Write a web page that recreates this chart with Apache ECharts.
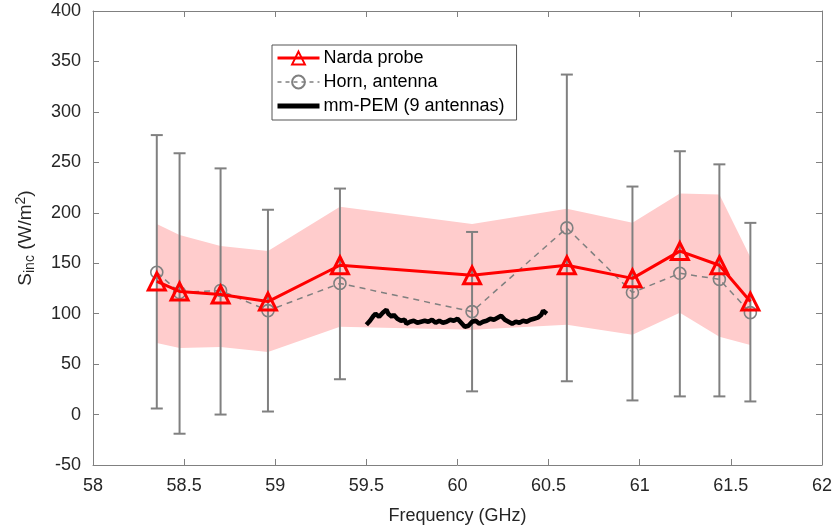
<!DOCTYPE html>
<html><head><meta charset="utf-8">
<script src="https://cdn.jsdelivr.net/npm/echarts@6/dist/echarts.min.js"></script>
<style>html,body{margin:0;padding:0;background:#fff}#c{width:835px;height:530px}</style>
</head><body><div id="c"></div>
<script>
const freq = [58.35, 58.475, 58.70, 58.96, 59.355, 60.08, 60.6, 60.96, 61.22, 61.437, 61.607];
const narda = [132, 122, 119, 112, 148, 138, 148, 135, 162, 148, 112];
const horn = [141, 121, 123, 103, 130, 102, 185, 121, 140, 134, 101];
const hornHigh = [277, 259, 244, 203, 224, 181, 337, 226, 261, 248, 190];
const hornLow = [6, -19, 0, 3, 35, 23, 33, 14, 18, 18, 13];
const bandHigh = [189, 178, 167, 162, 206, 189, 204, 190, 219, 218, 156];
const bandLow = [71, 66, 67, 62, 87, 84, 89, 79, 101, 77, 69];
const pemFreq = [59.50,59.52,59.54,59.55,59.57,59.59,59.61,59.62,59.64,59.65,59.67,59.69,59.71,59.72,59.74,59.76,59.78,59.80,59.82,59.84,59.86,59.88,59.90,59.92,59.94,59.96,59.98,60.00,60.02,60.04,60.06,60.08,60.10,60.12,60.14,60.16,60.18,60.20,60.22,60.24,60.26,60.28,60.30,60.32,60.34,60.36,60.38,60.40,60.42,60.44,60.46,60.47,60.48,60.49];
const pemVal = [89,93,98,100,97,101,104,100,97,99,95,93,94,90,92,93,91,92,93,92,94,91,93,91,92,94,93,95,91,87,88,92,93,90,92,93,95,94,96,98,94,92,90,92,91,93,92,94,95,96,99,103,102,100];
const xTicks = {min: 58, max: 62, interval: 0.5};
const yTicks = {min: -50, max: 400, interval: 50};
const names = ['Narda probe', 'Horn, antenna', 'mm-PEM (9 antennas)'];

const chart = echarts.init(document.getElementById('c'));
const FONT = '"Liberation Sans", Arial, sans-serif';
const AX = '#808080', TXT = '#262626';
function axisBase(pos, show) {
  return {
    position: pos, type: 'value',
    axisLine: {show: true, onZero: false, lineStyle: {color: AX, width: 1}},
    axisTick: {show: true, inside: true, length: 6, lineStyle: {color: AX}},
    axisLabel: {show: show, color: TXT, fontFamily: FONT, fontSize: 18},
    splitLine: {show: false}
  };
}
chart.setOption({
  animation: false,
  backgroundColor: '#fff',
  grid: {left: 93, right: 10, top: 11, bottom: 65},
  legend: {
    data: [
      {name: names[0], lineStyle: {width: 3, color: '#ff0000'}},
      {name: names[1], lineStyle: {width: 1.5, color: '#808080', type: [4, 4]}},
      {name: names[2], lineStyle: {width: 5, color: '#000'}}
    ],
    left: 272, top: 45, orient: 'vertical',
    backgroundColor: '#fff', borderColor: '#555', borderWidth: 1,
    padding: [4, 12, 5, 3], itemGap: 6, itemWidth: 42, itemHeight: 16,
    textStyle: {fontFamily: FONT, fontSize: 18, color: '#000', padding: [0, 0, 0, -1]}
  },
  xAxis: [
    Object.assign(axisBase('bottom', true), xTicks, {
      name: 'Frequency (GHz)', nameLocation: 'middle', nameGap: 42,
      nameTextStyle: {fontFamily: FONT, fontSize: 18, color: TXT},
      axisLabel: {color: TXT, fontFamily: FONT, fontSize: 18, margin: 12}
    }),
    Object.assign(axisBase('top', false), xTicks)
  ],
  yAxis: [
    Object.assign(axisBase('left', true), yTicks, {
      name: '{n|S}{s|inc}{n| (W/m}{p|2}{n|)}', nameLocation: 'middle', nameGap: 56, nameRotate: 90,
      nameTextStyle: {fontFamily: FONT, fontSize: 19, color: TXT, rich: {
        n: {fontFamily: FONT, fontSize: 19, color: TXT},
        s: {fontFamily: FONT, fontSize: 14, color: TXT, verticalAlign: 'bottom', padding: [9, 0, 0, 0]},
        p: {fontFamily: FONT, fontSize: 14, color: TXT, verticalAlign: 'top', padding: [0, 0, 9, 0]}
      }},
      axisLabel: {color: TXT, fontFamily: FONT, fontSize: 18, margin: 12}
    }),
    Object.assign(axisBase('right', false), yTicks)
  ],
  series: [
    {
      type: 'custom', name: 'band', z: 1, silent: true,
      data: [[0]],
      renderItem: function (params, api) {
        const pts = [];
        for (let i = 0; i < freq.length; i++) pts.push(api.coord([freq[i], bandHigh[i]]));
        for (let i = freq.length - 1; i >= 0; i--) pts.push(api.coord([freq[i], bandLow[i]]));
        return {type: 'polygon', shape: {points: pts}, style: {fill: '#ffcccc', stroke: 'none'}};
      }
    },
    {
      type: 'custom', name: 'err', z: 3, silent: true,
      data: freq.map((f, i) => [f, hornLow[i], hornHigh[i]]),
      renderItem: function (params, api) {
        const lo = api.coord([api.value(0), api.value(1)]);
        const hi = api.coord([api.value(0), api.value(2)]);
        const w = 6;
        const st = {stroke: '#808080', lineWidth: 2};
        return {type: 'group', children: [
          {type: 'line', shape: {x1: lo[0], y1: lo[1], x2: hi[0], y2: hi[1]}, style: st},
          {type: 'line', shape: {x1: lo[0] - w, y1: lo[1], x2: lo[0] + w, y2: lo[1]}, style: st},
          {type: 'line', shape: {x1: hi[0] - w, y1: hi[1], x2: hi[0] + w, y2: hi[1]}, style: st}
        ]};
      }
    },
    {
      type: 'line', name: names[2], z: 4,
      data: pemFreq.map((f, i) => [f, pemVal[i]]),
      showSymbol: false, symbol: 'none',
      lineStyle: {color: '#000', width: 4.5},
      itemStyle: {color: '#000', opacity: 0}
    },
    {
      type: 'line', name: names[1], z: 5,
      data: freq.map((f, i) => [f, horn[i]]),
      symbol: 'circle', symbolSize: 12,
      lineStyle: {color: '#808080', width: 1.5, type: [6, 5]},
      itemStyle: {color: 'rgba(255,255,255,0)', borderColor: '#808080', borderWidth: 1.6}
    },
    {
      type: 'line', name: names[0], z: 6,
      data: freq.map((f, i) => [f, narda[i]]),
      symbol: 'triangle', symbolSize: 17,
      lineStyle: {color: '#ff0000', width: 3},
      itemStyle: {color: 'rgba(255,255,255,0)', borderColor: '#ff0000', borderWidth: 3}
    }
  ]
});
</script></body></html>
